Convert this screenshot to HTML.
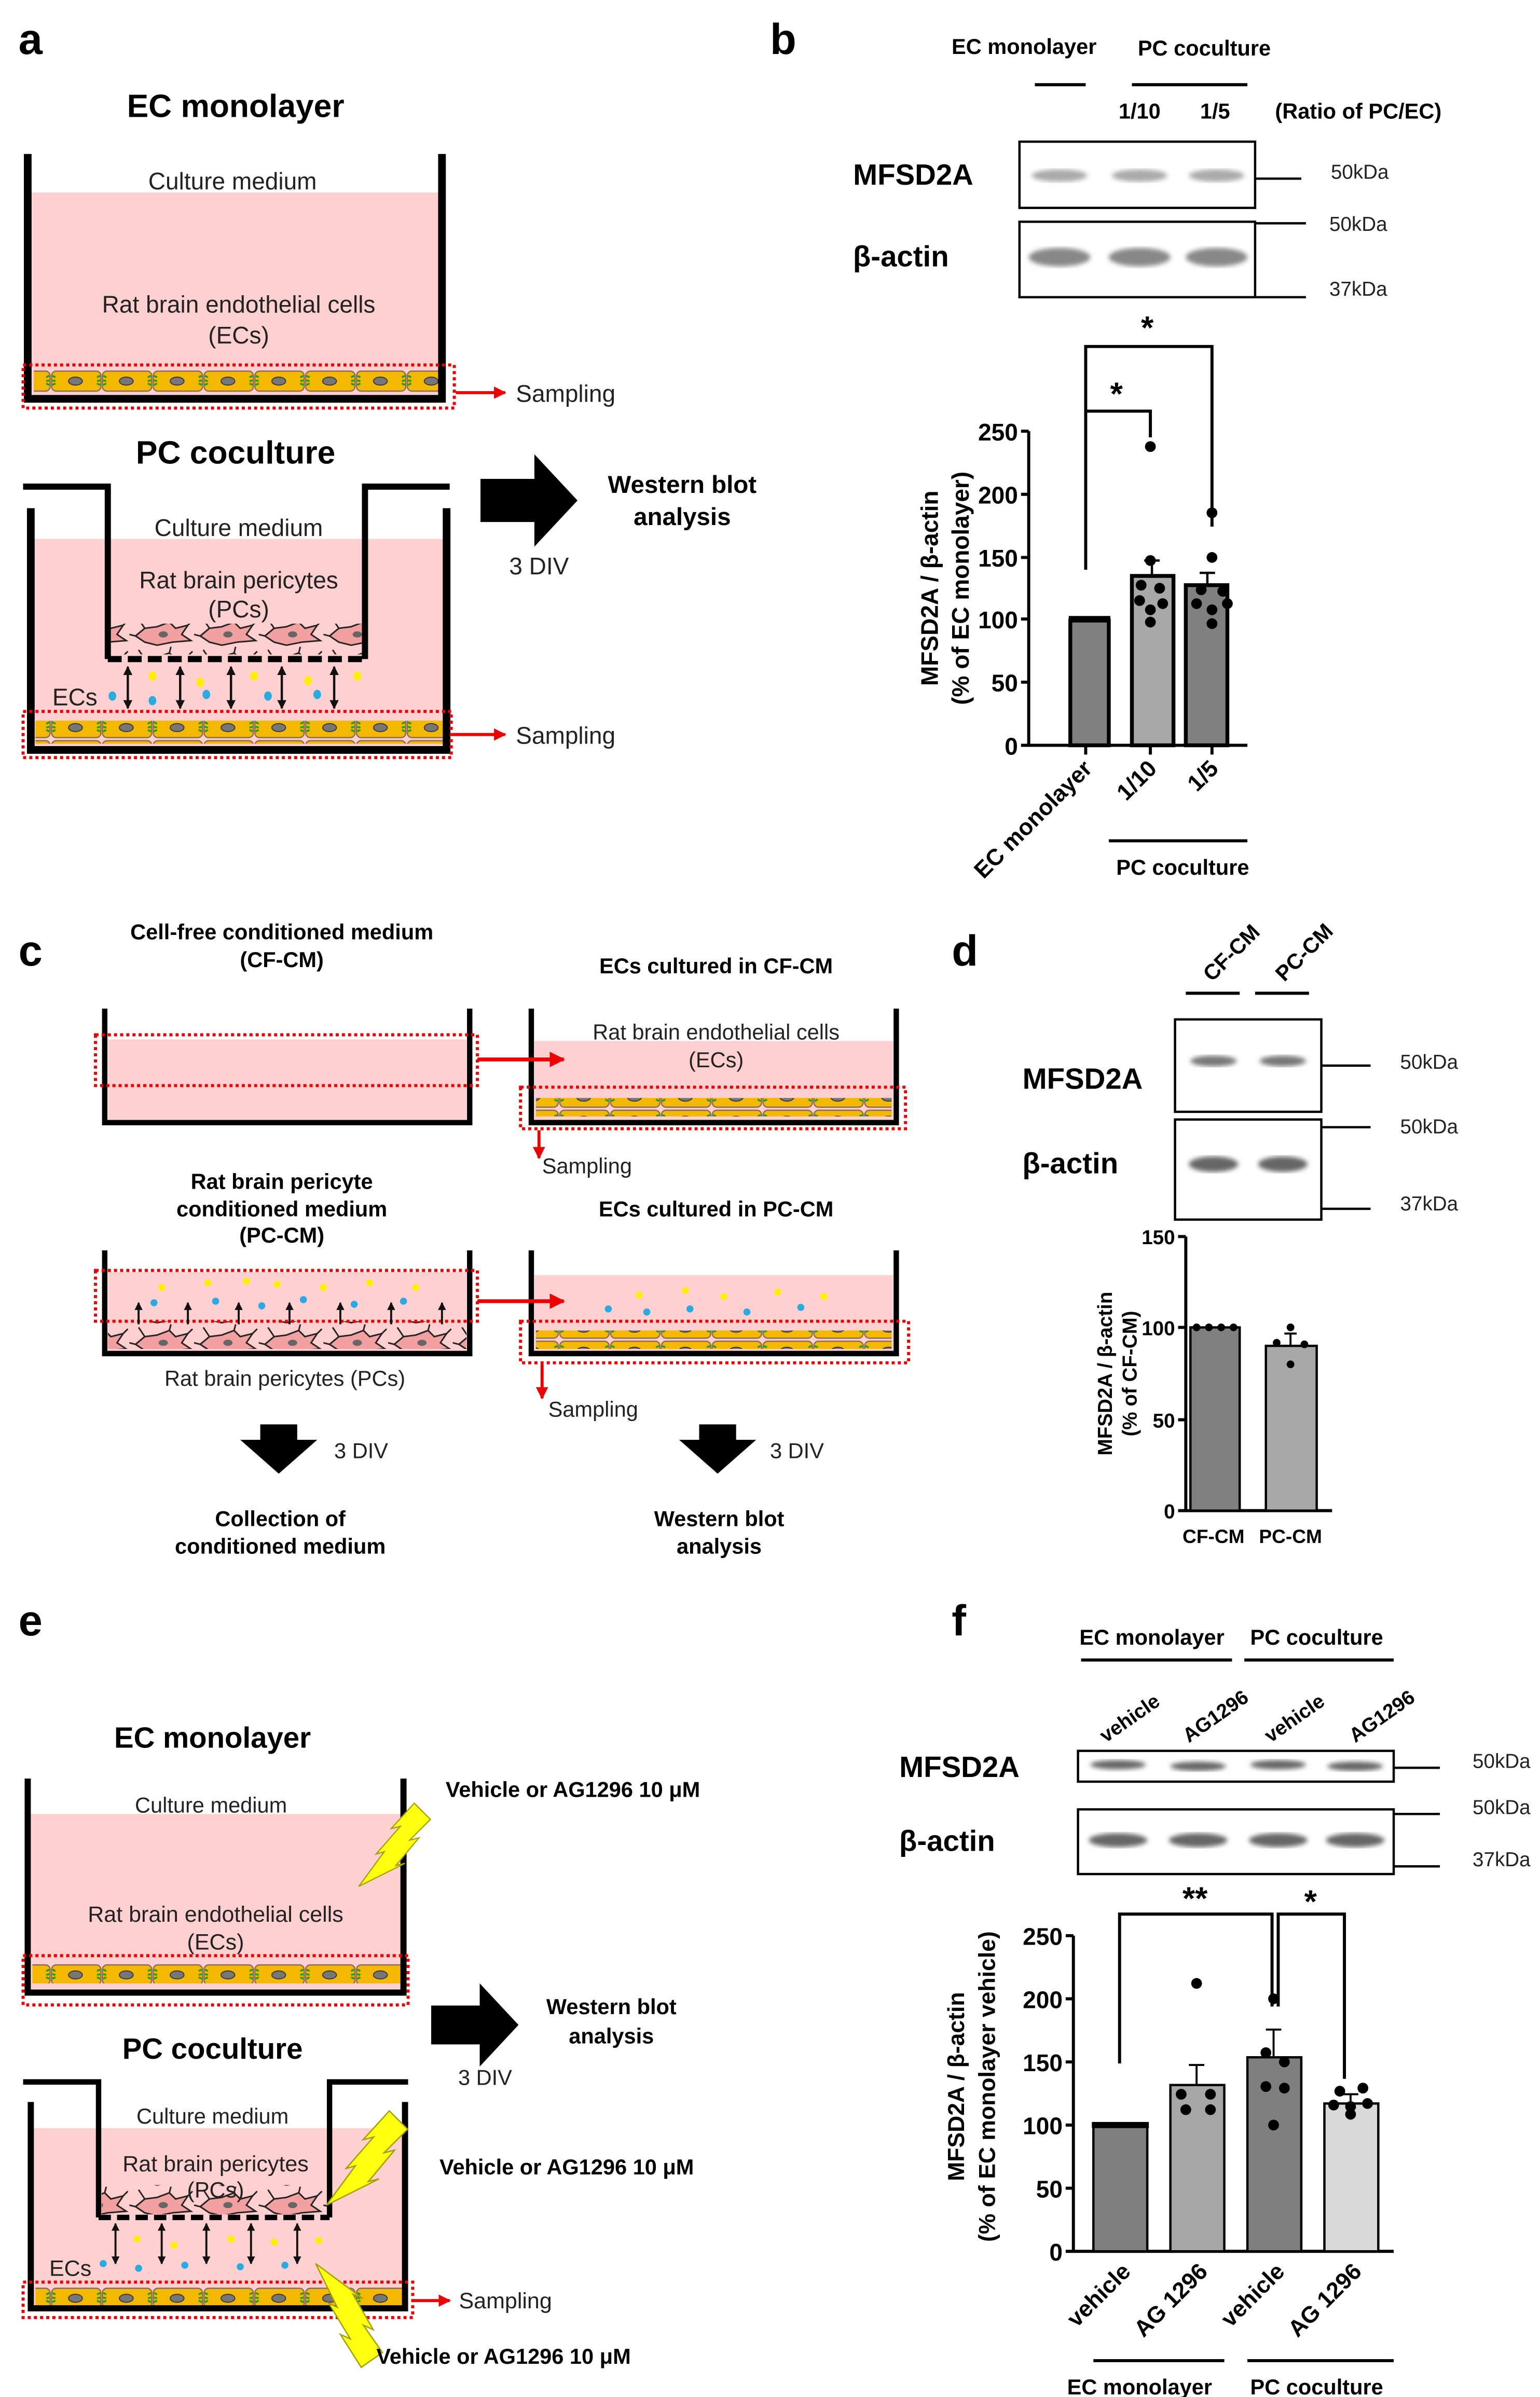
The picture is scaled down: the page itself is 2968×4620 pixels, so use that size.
<!DOCTYPE html>
<html><head><meta charset="utf-8"><style>html,body{margin:0;padding:0;background:#fff}svg{display:block}</style></head><body>
<svg xmlns="http://www.w3.org/2000/svg" width="2968" height="4620" viewBox="0 0 1000 1556.6" preserveAspectRatio="none" font-family="Liberation Sans, Arial, sans-serif">
<defs>
<pattern id="ec" x="0" y="0" width="33" height="15" patternUnits="userSpaceOnUse">
<rect x="0.5" y="1" width="32" height="13" rx="3" fill="#f5b800" stroke="#8a6a55" stroke-width="0.8"/>
<ellipse cx="16" cy="7.5" rx="4.5" ry="2.6" fill="#777" stroke="#333" stroke-width="0.6"/>
<path d="M1,4 l2,1 M1,7 l2,0.5 M1,10 l2,-1 M32,4 l-2,1 M32,7 l-2,0.5 M32,10 l-2,-1" stroke="#1aa01a" stroke-width="1.2"/>
</pattern>
<pattern id="pc" x="0" y="0" width="42" height="20" patternUnits="userSpaceOnUse">
<path d="M4,13 L10,8 L18,7 L26,4 L30,8 L38,6 L34,12 L40,16 L28,17 L18,19 L10,17 Z" fill="#f2a0a0" stroke="#222" stroke-width="1"/>
<path d="M10,8 L6,2 M26,4 L27,0 M38,6 L41,3 M4,13 L0,12" stroke="#222" stroke-width="1"/>
<ellipse cx="22" cy="12" rx="3" ry="2" fill="#666"/>
</pattern>
<marker id="ar" viewBox="0 0 10 10" refX="9" refY="5" markerWidth="4" markerHeight="4" orient="auto"><path d="M0,0 L10,5 L0,10 Z" fill="#e00"/></marker>
<marker id="ak" viewBox="0 0 10 10" refX="9" refY="5" markerWidth="4" markerHeight="4" orient="auto-start-reverse"><path d="M0,0 L10,5 L0,10 Z" fill="#111"/></marker>
<filter id="bl"><feGaussianBlur stdDeviation="1.5"/></filter>
<polygon id="lt" points="0,0 22,-30 15,-28 36,-52 28,-50 48,-72 62,-58 44,-40 52,-42 32,-18 40,-20" fill="#ffff10" stroke="#a0a000" stroke-width="1"/>
<g id="bigR"><polygon points="0,-14 35,-14 35,-30 63,0 35,30 35,14 0,14" fill="#000"/></g>
<g id="bigD"><polygon points="-12,0 12,0 12,10 25,10 0,32 -25,10 -12,10" fill="#000"/></g>
</defs>
<style>
.L{font-size:28px;font-weight:bold}
.T{font-size:21px;font-weight:bold}
.t{font-size:15.5px;fill:#222}
.b{font-size:14px;font-weight:bold}
.k{font-size:13px;fill:#222}
.ax{stroke:#000;stroke-width:2;fill:none}
.w{stroke:#000;stroke-width:5;fill:none}
.rd{stroke:#e00;stroke-width:2;stroke-dasharray:2 2;fill:none}
.ra{stroke:#e00;stroke-width:2;fill:none}
</style>

<!-- ===== Panel a ===== -->
<text x="12" y="35" class="L">a</text>
<text x="153" y="76" class="T" text-anchor="middle">EC monolayer</text>
<rect x="20" y="125" width="265" height="133" fill="#ffd0d0"/>
<rect x="22" y="240" width="264" height="15" fill="url(#ec)"/>
<path d="M18,100 V259 H287 V100" class="w"/>
<text x="151" y="123" class="t" text-anchor="middle">Culture medium</text>
<text x="155" y="203" class="t" text-anchor="middle">Rat brain endothelial cells</text>
<text x="155" y="223" class="t" text-anchor="middle">(ECs)</text>
<rect x="15" y="237" width="280" height="28" class="rd"/>
<line x1="296" y1="255" x2="328" y2="255" class="ra" marker-end="url(#ar)"/>
<text x="335" y="261" class="t">Sampling</text>

<text x="153" y="301" class="T" text-anchor="middle">PC coculture</text>
<rect x="22" y="350" width="266" height="135" fill="#ffd0d0"/>
<rect x="23" y="468" width="265" height="15" fill="url(#ec)"/>
<rect x="72" y="405" width="164" height="20" fill="url(#pc)"/>
<path d="M20,330 V487 H290 V330" class="w"/>
<path d="M15,316 H70 V428 M237,428 V316 H292" class="w" style="stroke-width:4"/>
<line x1="70" y1="428" x2="237" y2="428" stroke="#000" stroke-width="4" stroke-dasharray="9 4"/>
<text x="155" y="348" class="t" text-anchor="middle">Culture medium</text>
<text x="155" y="382" class="t" text-anchor="middle">Rat brain pericytes</text>
<text x="155" y="401" class="t" text-anchor="middle">(PCs)</text>
<g stroke="#111" stroke-width="1.5" marker-start="url(#ak)" marker-end="url(#ak)">
<line x1="83" y1="433" x2="83" y2="460"/><line x1="117" y1="433" x2="117" y2="460"/><line x1="150" y1="433" x2="150" y2="460"/><line x1="183" y1="433" x2="183" y2="460"/><line x1="217" y1="433" x2="217" y2="460"/>
</g>
<g fill="#ffee00"><ellipse cx="99" cy="439" rx="2.5" ry="3"/><ellipse cx="130" cy="443" rx="2.5" ry="3"/><ellipse cx="165" cy="439" rx="2.5" ry="3"/><ellipse cx="200" cy="442" rx="2.5" ry="3"/><ellipse cx="232" cy="439" rx="2.5" ry="3"/></g>
<g fill="#29abe2"><ellipse cx="73" cy="452" rx="2.5" ry="3"/><ellipse cx="99" cy="455" rx="2.5" ry="3"/><ellipse cx="134" cy="451" rx="2.5" ry="3"/><ellipse cx="174" cy="452" rx="2.5" ry="3"/><ellipse cx="206" cy="451" rx="2.5" ry="3"/></g>
<text x="34" y="458" class="t">ECs</text>
<rect x="15" y="462" width="278" height="30" class="rd"/>
<line x1="294" y1="477" x2="328" y2="477" class="ra" marker-end="url(#ar)"/>
<text x="335" y="483" class="t">Sampling</text>
<use href="#bigR" x="312" y="325"/>
<text x="350" y="373" class="t" text-anchor="middle">3 DIV</text>
<text x="443" y="320" class="b" style="font-size:16px" text-anchor="middle">Western blot</text>
<text x="443" y="341" class="b" style="font-size:16px" text-anchor="middle">analysis</text>

<!-- ===== Panel b ===== -->
<text x="500" y="35" class="L">b</text>
<text x="665" y="35" class="b" text-anchor="middle">EC monolayer</text>
<text x="782" y="36" class="b" text-anchor="middle">PC coculture</text>
<line x1="672" y1="55" x2="705" y2="55" class="ax"/><line x1="735" y1="55" x2="810" y2="55" class="ax"/>
<text x="740" y="77" class="b" text-anchor="middle">1/10</text>
<text x="789" y="77" class="b" text-anchor="middle">1/5</text>
<text x="882" y="77" class="b" text-anchor="middle">(Ratio of PC/EC)</text>
<rect x="662" y="92" width="153" height="43" fill="#fff" stroke="#000" stroke-width="1.5"/>
<g filter="url(#bl)" fill="#aaa"><ellipse cx="688" cy="114" rx="18" ry="4"/><ellipse cx="740" cy="114" rx="18" ry="4"/><ellipse cx="790" cy="114" rx="18" ry="4"/></g>
<text x="593" y="120" class="T" style="font-size:19px" text-anchor="middle">MFSD2A</text>
<line x1="815" y1="116" x2="845" y2="116" class="ax" style="stroke-width:1.5"/>
<text x="883" y="116" class="k" text-anchor="middle">50kDa</text>
<rect x="662" y="144" width="153" height="49" fill="#fff" stroke="#000" stroke-width="1.5"/>
<g filter="url(#bl)" fill="#888"><ellipse cx="688" cy="167" rx="20" ry="6"/><ellipse cx="740" cy="167" rx="20" ry="6"/><ellipse cx="790" cy="167" rx="20" ry="6"/></g>
<text x="585" y="173" class="T" style="font-size:19px" text-anchor="middle">β-actin</text>
<line x1="815" y1="145" x2="848" y2="145" class="ax" style="stroke-width:1.5"/><line x1="815" y1="193" x2="848" y2="193" class="ax" style="stroke-width:1.5"/>
<text x="882" y="150" class="k" text-anchor="middle">50kDa</text>
<text x="882" y="192" class="k" text-anchor="middle">37kDa</text>
<!-- chart b -->
<g class="b" text-anchor="end" style="font-size:15.5px">
<text x="661" y="286">250</text><text x="661" y="327">200</text><text x="661" y="368">150</text><text x="661" y="408">100</text><text x="661" y="449">50</text><text x="661" y="490">0</text></g>
<path d="M668,280 V484 H810 M663,280 H668 M663,321 H668 M663,362 H668 M663,402 H668 M663,443 H668 M663,484 H668 M705,484 V490 M747,484 V490 M787,484 V490" class="ax"/>
<rect x="695" y="403" width="25" height="81" fill="#808080" stroke="#000" stroke-width="2.5"/>
<rect x="735" y="374" width="27" height="110" fill="#a8a8a8" stroke="#000" stroke-width="2.5"/>
<rect x="770" y="380" width="27" height="104" fill="#808080" stroke="#000" stroke-width="2.5"/>
<line x1="694" y1="402" x2="721" y2="402" stroke="#000" stroke-width="4"/>
<path d="M748,374 V364 M743,364 H753 M784,380 V372 M779,372 H789" class="ax" style="stroke-width:1.5"/>
<g fill="#000"><circle cx="747" cy="290" r="3.5"/><circle cx="747" cy="364" r="3.5"/><circle cx="741" cy="380" r="3.5"/><circle cx="753" cy="382" r="3.5"/><circle cx="740" cy="390" r="3.5"/><circle cx="755" cy="392" r="3.5"/><circle cx="747" cy="396" r="3.5"/><circle cx="747" cy="404" r="3.5"/><circle cx="787" cy="333" r="3.5"/><circle cx="787" cy="362" r="3.5"/><circle cx="780" cy="383" r="3.5"/><circle cx="794" cy="384" r="3.5"/><circle cx="777" cy="392" r="3.5"/><circle cx="797" cy="392" r="3.5"/><circle cx="787" cy="396" r="3.5"/><circle cx="787" cy="405" r="3.5"/></g>
<path d="M705,370 V225 H787 V342 M705,267 H747 V284" class="ax"/>
<text x="725" y="263" class="T" text-anchor="middle">*</text>
<text x="745" y="220" class="T" text-anchor="middle">*</text>
<g transform="translate(609,382) rotate(-90)" text-anchor="middle" class="b" style="font-size:15.5px"><text x="0" y="0">MFSD2A / β-actin</text><text x="0" y="20">(% of EC monolayer)</text></g>
<g class="b" text-anchor="end" style="font-size:15px">
<text transform="translate(710,500) rotate(-45)">EC monolayer</text>
<text transform="translate(752,500) rotate(-45)">1/10</text>
<text transform="translate(792,500) rotate(-45)">1/5</text></g>
<line x1="720" y1="546" x2="810" y2="546" class="ax"/>
<text x="768" y="568" class="b" text-anchor="middle">PC coculture</text>

<!-- ===== Panel c ===== -->
<text x="12" y="627" class="L">c</text>
<text x="183" y="610" class="b" text-anchor="middle">Cell-free conditioned medium</text>
<text x="183" y="628" class="b" text-anchor="middle">(CF-CM)</text>
<rect x="70" y="675" width="233" height="52" fill="#ffd0d0"/>
<path d="M68,655 V729 H305 V655" class="w" style="stroke-width:3.5"/>
<rect x="62" y="672" width="248" height="33" class="rd"/>
<text x="465" y="632" class="b" text-anchor="middle">ECs cultured in CF-CM</text>
<rect x="347" y="676" width="233" height="52" fill="#ffd0d0"/>
<rect x="348" y="713" width="231" height="12" fill="url(#ec)"/>
<path d="M345,655 V729 H582 V655" class="w" style="stroke-width:3.5"/>
<text x="465" y="675" class="k" style="font-size:14px" text-anchor="middle">Rat brain endothelial cells</text>
<text x="465" y="693" class="k" style="font-size:14px" text-anchor="middle">(ECs)</text>
<rect x="338" y="706" width="250" height="27" class="rd"/>
<line x1="350" y1="734" x2="350" y2="752" class="ra" marker-end="url(#ar)"/>
<text x="352" y="762" class="k" style="font-size:14px">Sampling</text>

<text x="183" y="772" class="b" text-anchor="middle">Rat brain pericyte</text>
<text x="183" y="790" class="b" text-anchor="middle">conditioned medium</text>
<text x="183" y="807" class="b" text-anchor="middle">(PC-CM)</text>
<rect x="70" y="826" width="233" height="52" fill="#ffd0d0"/>
<rect x="70" y="858" width="233" height="18" fill="url(#pc)"/>
<path d="M68,812 V879 H305 V812" class="w" style="stroke-width:3.5"/>
<rect x="62" y="825" width="248" height="33" class="rd"/>
<g stroke="#111" stroke-width="1.3" marker-end="url(#ak)">
<line x1="90" y1="860" x2="90" y2="846"/><line x1="122" y1="860" x2="122" y2="846"/><line x1="155" y1="860" x2="155" y2="846"/><line x1="188" y1="860" x2="188" y2="846"/><line x1="221" y1="860" x2="221" y2="846"/><line x1="254" y1="860" x2="254" y2="846"/><line x1="287" y1="860" x2="287" y2="846"/></g>
<g fill="#ffee00"><circle cx="105" cy="836" r="2.3"/><circle cx="135" cy="833" r="2.3"/><circle cx="160" cy="832" r="2.3"/><circle cx="180" cy="834" r="2.3"/><circle cx="210" cy="836" r="2.3"/><circle cx="240" cy="833" r="2.3"/><circle cx="270" cy="836" r="2.3"/></g>
<g fill="#29abe2"><circle cx="100" cy="846" r="2.3"/><circle cx="140" cy="845" r="2.3"/><circle cx="170" cy="848" r="2.3"/><circle cx="197" cy="844" r="2.3"/><circle cx="230" cy="847" r="2.3"/><circle cx="262" cy="845" r="2.3"/></g>
<text x="185" y="900" class="k" style="font-size:14px" text-anchor="middle">Rat brain pericytes (PCs)</text>
<text x="465" y="790" class="b" text-anchor="middle">ECs cultured in PC-CM</text>
<rect x="347" y="828" width="233" height="50" fill="#ffd0d0"/>
<rect x="348" y="864" width="231" height="12" fill="url(#ec)"/>
<path d="M345,812 V879 H582 V812" class="w" style="stroke-width:3.5"/>
<g fill="#ffee00"><circle cx="415" cy="841" r="2.3"/><circle cx="445" cy="838" r="2.3"/><circle cx="470" cy="842" r="2.3"/><circle cx="505" cy="839" r="2.3"/><circle cx="535" cy="842" r="2.3"/></g>
<g fill="#29abe2"><circle cx="395" cy="850" r="2.3"/><circle cx="420" cy="852" r="2.3"/><circle cx="448" cy="850" r="2.3"/><circle cx="485" cy="852" r="2.3"/><circle cx="520" cy="849" r="2.3"/></g>
<rect x="338" y="858" width="252" height="27" class="rd"/>
<line x1="352" y1="886" x2="352" y2="908" class="ra" marker-end="url(#ar)"/>
<text x="356" y="920" class="k" style="font-size:14px">Sampling</text>
<line x1="310" y1="688" x2="366" y2="688" class="ra" style="stroke-width:2.5" marker-end="url(#ar)"/>
<line x1="310" y1="845" x2="366" y2="845" class="ra" style="stroke-width:2.5" marker-end="url(#ar)"/>
<use href="#bigD" x="181" y="925"/><use href="#bigD" x="466" y="925"/>
<text x="217" y="947" class="k" style="font-size:14px">3 DIV</text>
<text x="500" y="947" class="k" style="font-size:14px">3 DIV</text>
<text x="182" y="991" class="b" text-anchor="middle">Collection of</text>
<text x="182" y="1009" class="b" text-anchor="middle">conditioned medium</text>
<text x="467" y="991" class="b" text-anchor="middle">Western blot</text>
<text x="467" y="1009" class="b" text-anchor="middle">analysis</text>

<!-- ===== Panel d ===== -->
<text x="618" y="627" class="L">d</text>
<g class="b" style="font-size:14px"><text transform="translate(787,638) rotate(-45)">CF-CM</text><text transform="translate(834,638) rotate(-45)">PC-CM</text></g>
<line x1="770" y1="645" x2="805" y2="645" class="ax"/><line x1="815" y1="645" x2="850" y2="645" class="ax"/>
<rect x="763" y="662" width="95" height="60" fill="#fff" stroke="#000" stroke-width="1.5"/>
<g filter="url(#bl)" fill="#777"><ellipse cx="788" cy="689" rx="15" ry="3.5"/><ellipse cx="833" cy="689" rx="15" ry="3.5"/></g>
<text x="703" y="707" class="T" style="font-size:19px" text-anchor="middle">MFSD2A</text>
<line x1="858" y1="692" x2="890" y2="692" class="ax" style="stroke-width:1.5"/>
<text x="928" y="694" class="k" text-anchor="middle">50kDa</text>
<rect x="763" y="727" width="95" height="65" fill="#fff" stroke="#000" stroke-width="1.5"/>
<g filter="url(#bl)" fill="#666"><ellipse cx="788" cy="756" rx="16" ry="5"/><ellipse cx="833" cy="756" rx="16" ry="5"/></g>
<text x="695" y="762" class="T" style="font-size:19px" text-anchor="middle">β-actin</text>
<line x1="858" y1="732" x2="890" y2="732" class="ax" style="stroke-width:1.5"/><line x1="858" y1="785" x2="890" y2="785" class="ax" style="stroke-width:1.5"/>
<text x="928" y="736" class="k" text-anchor="middle">50kDa</text>
<text x="928" y="786" class="k" text-anchor="middle">37kDa</text>
<g class="b" text-anchor="end" style="font-size:13px"><text x="763" y="808">150</text><text x="763" y="867">100</text><text x="763" y="927">50</text><text x="763" y="986">0</text></g>
<path d="M770,803 V981 H865 M765,803 H770 M765,862 H770 M765,922 H770 M765,981 H770" class="ax"/>
<rect x="773" y="862" width="32" height="119" fill="#808080" stroke="#000" stroke-width="1.5"/>
<rect x="822" y="874" width="33" height="107" fill="#a8a8a8" stroke="#000" stroke-width="1.5"/>
<g fill="#000"><circle cx="777" cy="862" r="2.5"/><circle cx="785" cy="862" r="2.5"/><circle cx="793" cy="862" r="2.5"/><circle cx="801" cy="862" r="2.5"/><circle cx="838" cy="862" r="2.5"/><circle cx="829" cy="872" r="2.5"/><circle cx="847" cy="873" r="2.5"/><circle cx="838" cy="886" r="2.5"/></g>
<path d="M838,874 V866 M834,866 H842" class="ax" style="stroke-width:1.3"/>
<g transform="translate(722,892) rotate(-90)" text-anchor="middle" class="b" style="font-size:13px"><text x="0" y="0">MFSD2A / β-actin</text><text x="0" y="16">(% of CF-CM)</text></g>
<text x="788" y="1002" class="b" style="font-size:12.5px" text-anchor="middle">CF-CM</text>
<text x="838" y="1002" class="b" style="font-size:12.5px" text-anchor="middle">PC-CM</text>

<!-- ===== Panel e ===== -->
<text x="12" y="1062" class="L">e</text>
<text x="138" y="1135" class="T" style="font-size:19px" text-anchor="middle">EC monolayer</text>
<rect x="20" y="1178" width="240" height="115" fill="#ffd0d0"/>
<rect x="21" y="1275" width="239" height="13" fill="url(#ec)"/>
<path d="M18,1155 V1294 H262 V1155" class="w" style="stroke-width:4"/>
<text x="137" y="1177" class="k" style="font-size:14px" text-anchor="middle">Culture medium</text>
<text x="140" y="1248" class="t" style="font-size:14.5px" text-anchor="middle">Rat brain endothelial cells</text>
<text x="140" y="1266" class="t" style="font-size:14.5px" text-anchor="middle">(ECs)</text>
<rect x="15" y="1270" width="250" height="32" class="rd"/>
<use href="#lt" transform="translate(233,1225) scale(0.75)"/>
<text x="372" y="1167" class="b" text-anchor="middle">Vehicle or AG1296 10 μM</text>
<use href="#bigR" transform="translate(280,1315) scale(0.9)"/>
<text x="397" y="1308" class="b" text-anchor="middle">Western blot</text>
<text x="397" y="1327" class="b" text-anchor="middle">analysis</text>
<text x="315" y="1354" class="k" style="font-size:14px" text-anchor="middle">3 DIV</text>
<text x="138" y="1337" class="T" style="font-size:19px" text-anchor="middle">PC coculture</text>
<rect x="22" y="1382" width="240" height="116" fill="#ffd0d0"/>
<rect x="23" y="1485" width="238" height="12" fill="url(#ec)"/>
<rect x="66" y="1419" width="147" height="19" fill="url(#pc)"/>
<path d="M20,1365 V1499 H263 V1365" class="w" style="stroke-width:4"/>
<path d="M15,1352 H64 V1440 M214,1440 V1352 H265" class="w" style="stroke-width:3.5"/>
<line x1="64" y1="1440" x2="214" y2="1440" stroke="#000" stroke-width="3.5" stroke-dasharray="8 4"/>
<text x="138" y="1379" class="k" style="font-size:14px" text-anchor="middle">Culture medium</text>
<text x="140" y="1410" class="t" style="font-size:14.5px" text-anchor="middle">Rat brain pericytes</text>
<text x="140" y="1427" class="t" style="font-size:14.5px" text-anchor="middle">(PCs)</text>
<g stroke="#111" stroke-width="1.3" marker-start="url(#ak)" marker-end="url(#ak)">
<line x1="75" y1="1444" x2="75" y2="1470"/><line x1="105" y1="1444" x2="105" y2="1470"/><line x1="134" y1="1444" x2="134" y2="1470"/><line x1="163" y1="1444" x2="163" y2="1470"/><line x1="193" y1="1444" x2="193" y2="1470"/></g>
<g fill="#ffee00"><circle cx="89" cy="1454" r="2.3"/><circle cx="113" cy="1458" r="2.3"/><circle cx="150" cy="1454" r="2.3"/><circle cx="178" cy="1456" r="2.3"/><circle cx="207" cy="1455" r="2.3"/></g>
<g fill="#29abe2"><circle cx="67" cy="1470" r="2.3"/><circle cx="90" cy="1473" r="2.3"/><circle cx="120" cy="1471" r="2.3"/><circle cx="156" cy="1472" r="2.3"/><circle cx="185" cy="1471" r="2.3"/></g>
<text x="32" y="1478" class="t" style="font-size:14.5px">ECs</text>
<rect x="15" y="1482" width="253" height="23" class="rd"/>
<line x1="268" y1="1494" x2="292" y2="1494" class="ra" marker-end="url(#ar)"/>
<text x="298" y="1499" class="t" style="font-size:14.5px">Sampling</text>
<use href="#lt" transform="translate(212,1432) scale(0.85)"/>
<use href="#lt" transform="translate(205,1470) scale(0.85,-0.85) rotate(-10)"/>
<text x="368" y="1412" class="b" text-anchor="middle">Vehicle or AG1296 10 μM</text>
<text x="327" y="1535" class="b" text-anchor="middle">Vehicle or AG1296 10 μM</text>

<!-- ===== Panel f ===== -->
<text x="618" y="1062" class="L">f</text>
<text x="748" y="1068" class="b" text-anchor="middle">EC monolayer</text>
<text x="855" y="1068" class="b" text-anchor="middle">PC coculture</text>
<line x1="702" y1="1078" x2="800" y2="1078" class="ax"/><line x1="808" y1="1078" x2="905" y2="1078" class="ax"/>
<g class="b" style="font-size:13px"><text transform="translate(718,1132) rotate(-35)">vehicle</text><text transform="translate(772,1132) rotate(-35)">AG1296</text><text transform="translate(825,1132) rotate(-35)">vehicle</text><text transform="translate(880,1132) rotate(-35)">AG1296</text></g>
<rect x="700" y="1137" width="205" height="20" fill="#fff" stroke="#000" stroke-width="1.5"/>
<g filter="url(#bl)" fill="#666"><ellipse cx="726" cy="1146" rx="18" ry="3"/><ellipse cx="778" cy="1147" rx="18" ry="3"/><ellipse cx="830" cy="1146" rx="18" ry="3"/><ellipse cx="880" cy="1147" rx="18" ry="3"/></g>
<text x="623" y="1154" class="T" style="font-size:19px" text-anchor="middle">MFSD2A</text>
<line x1="905" y1="1148" x2="935" y2="1148" class="ax" style="stroke-width:1.5"/>
<text x="975" y="1148" class="k" text-anchor="middle">50kDa</text>
<rect x="700" y="1175" width="205" height="42" fill="#fff" stroke="#000" stroke-width="1.5"/>
<g filter="url(#bl)" fill="#666"><ellipse cx="726" cy="1195" rx="19" ry="4.5"/><ellipse cx="778" cy="1195" rx="19" ry="4.5"/><ellipse cx="830" cy="1195" rx="19" ry="4.5"/><ellipse cx="880" cy="1195" rx="19" ry="4.5"/></g>
<text x="615" y="1202" class="T" style="font-size:19px" text-anchor="middle">β-actin</text>
<line x1="905" y1="1178" x2="935" y2="1178" class="ax" style="stroke-width:1.5"/><line x1="905" y1="1212" x2="935" y2="1212" class="ax" style="stroke-width:1.5"/>
<text x="975" y="1178" class="k" text-anchor="middle">50kDa</text>
<text x="975" y="1212" class="k" text-anchor="middle">37kDa</text>
<g class="b" text-anchor="end" style="font-size:15.5px"><text x="690" y="1263">250</text><text x="690" y="1304">200</text><text x="690" y="1345">150</text><text x="690" y="1386">100</text><text x="690" y="1427">50</text><text x="690" y="1468">0</text></g>
<path d="M697,1257 V1462 H905 M692,1257 H697 M692,1298 H697 M692,1339 H697 M692,1380 H697 M692,1421 H697 M692,1462 H697" class="ax"/>
<rect x="710" y="1380" width="35" height="82" fill="#7f7f7f" stroke="#000" stroke-width="1.5"/>
<rect x="760" y="1354" width="35" height="108" fill="#a6a6a6" stroke="#000" stroke-width="1.5"/>
<rect x="810" y="1336" width="35" height="126" fill="#7f7f7f" stroke="#000" stroke-width="1.5"/>
<rect x="860" y="1366" width="35" height="96" fill="#d9d9d9" stroke="#000" stroke-width="1.5"/>
<line x1="709" y1="1380" x2="746" y2="1380" stroke="#000" stroke-width="4"/>
<path d="M777,1354 V1341 M772,1341 H782 M827,1336 V1318 M822,1318 H832 M877,1366 V1360 M872,1360 H882" class="ax" style="stroke-width:1.3"/>
<g fill="#000"><circle cx="777" cy="1288" r="3.5"/><circle cx="767" cy="1360" r="3.5"/><circle cx="786" cy="1360" r="3.5"/><circle cx="770" cy="1370" r="3.5"/><circle cx="786" cy="1370" r="3.5"/><circle cx="827" cy="1298" r="3.5"/><circle cx="822" cy="1333" r="3.5"/><circle cx="834" cy="1339" r="3.5"/><circle cx="822" cy="1355" r="3.5"/><circle cx="834" cy="1356" r="3.5"/><circle cx="827" cy="1380" r="3.5"/><circle cx="870" cy="1358" r="3.5"/><circle cx="885" cy="1356" r="3.5"/><circle cx="866" cy="1367" r="3.5"/><circle cx="877" cy="1368" r="3.5"/><circle cx="888" cy="1366" r="3.5"/><circle cx="877" cy="1373" r="3.5"/></g>
<path d="M727,1340 V1243 H826 V1303 M830,1303 V1243 H873 V1350" class="ax"/>
<text x="776" y="1240" class="T" text-anchor="middle">**</text>
<text x="851" y="1242" class="T" text-anchor="middle">*</text>
<g transform="translate(626,1355) rotate(-90)" text-anchor="middle" class="b" style="font-size:15px"><text x="0" y="0">MFSD2A / β-actin</text><text x="0" y="20">(% of EC monolayer vehicle)</text></g>
<g class="b" text-anchor="end" style="font-size:15px">
<text transform="translate(735,1476) rotate(-45)">vehicle</text><text transform="translate(785,1476) rotate(-45)">AG 1296</text><text transform="translate(835,1476) rotate(-45)">vehicle</text><text transform="translate(885,1476) rotate(-45)">AG 1296</text></g>
<line x1="710" y1="1533" x2="795" y2="1533" class="ax"/><line x1="810" y1="1533" x2="905" y2="1533" class="ax"/>
<text x="740" y="1555" class="b" text-anchor="middle">EC monolayer</text>
<text x="855" y="1555" class="b" text-anchor="middle">PC coculture</text>
</svg>
</body></html>
